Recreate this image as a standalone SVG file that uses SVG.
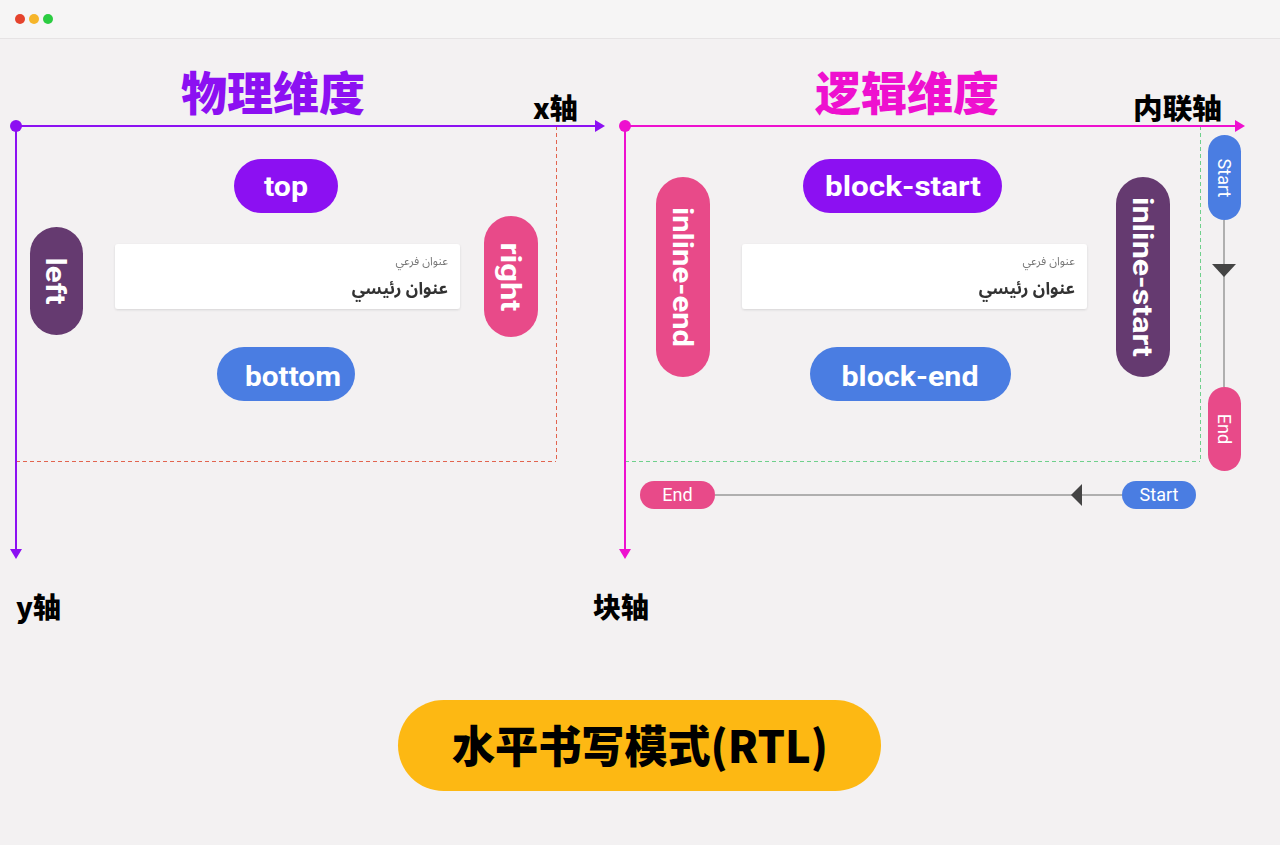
<svg xmlns="http://www.w3.org/2000/svg" width="1280" height="845" viewBox="0 0 1280 845">
<style>
.cjk{font-family:"Noto Sans CJK SC","Noto Sans",sans-serif;font-weight:900}
.pill{font-family:Roboto,"Noto Sans",sans-serif;font-weight:700;fill:#fff}
.small{font-family:Roboto,"Noto Sans",sans-serif;font-weight:400;fill:#fff;font-size:18px}
.ar{font-family:"Noto Sans Arabic","DejaVu Sans",sans-serif}
.conn{stroke:#999;stroke-width:1.5;fill:none}
.head{fill:#444}
</style>
<defs>
<filter id="sh" x="-5%" y="-20%" width="110%" height="140%">
<feDropShadow dx="0" dy="1" stdDeviation="1.2" flood-color="#000" flood-opacity="0.12"/>
</filter>
<marker id="ap" viewBox="0 0 10 12" refX="1" refY="6" markerWidth="10" markerHeight="12" markerUnits="userSpaceOnUse" orient="auto">
<path d="M0,0 L10,6 L0,12 Z" fill="#8c10f2"/>
</marker>
<marker id="am" viewBox="0 0 10 12" refX="1" refY="6" markerWidth="10" markerHeight="12" markerUnits="userSpaceOnUse" orient="auto">
<path d="M0,0 L10,6 L0,12 Z" fill="#ee10cf"/>
</marker>
</defs>
<rect x="0" y="0" width="1280" height="845" fill="#f3f1f2"/>
<rect x="0" y="0" width="1280" height="38" fill="#f6f5f5"/>
<line x1="0" y1="38.5" x2="1280" y2="38.5" stroke="#e6e3e4" stroke-width="1"/>
<circle cx="20" cy="19" r="5" fill="#e5432d"/>
<circle cx="34" cy="19" r="5" fill="#f6b52a"/>
<circle cx="48" cy="19" r="5" fill="#2bcc41"/>

<g id="titles">
<text class="cjk" x="273" y="110" font-size="46" fill="#8c10f2" text-anchor="middle">物理维度</text>
<text class="cjk" x="907" y="110" font-size="46" fill="#ee10cf" text-anchor="middle">逻辑维度</text>
<text class="cjk" x="533" y="119" font-size="28" fill="#000">x轴</text>
<text class="cjk" x="1133" y="119" font-size="28" fill="#000" textLength="89" lengthAdjust="spacingAndGlyphs">内联轴</text>
<text class="cjk" x="16" y="618" font-size="28" fill="#000">y轴</text>
<text class="cjk" x="593" y="618" font-size="28" fill="#000">块轴</text>
</g>

<g id="connectors">
<line x1="556.5" y1="126" x2="556.5" y2="461" stroke="#e2644f" stroke-width="1" stroke-dasharray="4 3"/>
<line x1="16" y1="461.5" x2="556" y2="461.5" stroke="#e2644f" stroke-width="1" stroke-dasharray="4 3"/>
<line x1="1200.5" y1="126" x2="1200.5" y2="461" stroke="#6fd08c" stroke-width="1" stroke-dasharray="4 3"/>
<line x1="625" y1="461.5" x2="1200" y2="461.5" stroke="#6fd08c" stroke-width="1" stroke-dasharray="4 3"/>
<line x1="16" y1="126" x2="596" y2="126" stroke="#8c10f2" stroke-width="2" marker-end="url(#ap)"/>
<line x1="16" y1="126" x2="16" y2="550" stroke="#8c10f2" stroke-width="2" marker-end="url(#ap)"/>
<circle cx="16" cy="126" r="6" fill="#8c10f2"/>
<line x1="625" y1="126" x2="1236" y2="126" stroke="#ee10cf" stroke-width="2" marker-end="url(#am)"/>
<line x1="625" y1="126" x2="625" y2="550" stroke="#ee10cf" stroke-width="2" marker-end="url(#am)"/>
<circle cx="625" cy="126" r="6" fill="#ee10cf"/>
<line class="conn" x1="1224" y1="220" x2="1224" y2="387"/>
<path class="head" d="M1212,264 L1236,264 L1224,277 Z"/>
<line class="conn" x1="715" y1="495" x2="1122" y2="495"/>
<path class="head" d="M1071,495 L1082,484 L1082,506 Z"/>
</g>

<g id="top">
<rect x="234" y="159" width="104" height="54" rx="27" fill="#8c10f2"/>
<text class="pill" x="286" y="196" font-size="28" text-anchor="middle" textLength="44" lengthAdjust="spacingAndGlyphs">top</text>
</g>
<g id="left">
<rect x="30" y="227" width="53" height="108" rx="26.5" fill="#653a70"/>
<text class="pill" transform="translate(46,281) rotate(90)" font-size="28" text-anchor="middle" textLength="47" lengthAdjust="spacingAndGlyphs">left</text>
</g>
<g id="right">
<rect x="484" y="216" width="54" height="121" rx="27" fill="#e84a89"/>
<text class="pill" transform="translate(501,277) rotate(90)" font-size="28" text-anchor="middle" textLength="69" lengthAdjust="spacingAndGlyphs">right</text>
</g>
<g id="bottom">
<rect x="217" y="347" width="138" height="54" rx="27" fill="#4a7de2"/>
<text class="pill" x="293" y="386" font-size="28" text-anchor="middle" textLength="96" lengthAdjust="spacingAndGlyphs">bottom</text>
</g>
<g id="card-physical" filter="url(#sh)">
<rect x="115" y="244" width="345" height="65" rx="3" fill="#fff"/>
<text class="ar" x="448" y="265" font-size="11.5" fill="#777" text-anchor="end">عنوان فرعي</text>
<text class="ar" x="448" y="294" font-size="17" font-weight="700" fill="#333" text-anchor="end">عنوان رئيسي</text>
</g>

<g id="block-start">
<rect x="803" y="159" width="199" height="54" rx="27" fill="#8c10f2"/>
<text class="pill" x="903" y="196" font-size="28" text-anchor="middle" textLength="156" lengthAdjust="spacingAndGlyphs">block-start</text>
</g>
<g id="inline-end">
<rect x="656" y="177" width="54" height="200" rx="27" fill="#e84a89"/>
<text class="pill" transform="translate(673,277) rotate(90)" font-size="28" text-anchor="middle" textLength="140" lengthAdjust="spacingAndGlyphs">inline-end</text>
</g>
<g id="inline-start">
<rect x="1116" y="177" width="54" height="200" rx="27" fill="#653a70"/>
<text class="pill" transform="translate(1133,277) rotate(90)" font-size="28" text-anchor="middle" textLength="160" lengthAdjust="spacingAndGlyphs">inline-start</text>
</g>
<g id="block-end">
<rect x="810" y="347" width="201" height="54" rx="27" fill="#4a7de2"/>
<text class="pill" x="910" y="386" font-size="28" text-anchor="middle" textLength="137" lengthAdjust="spacingAndGlyphs">block-end</text>
</g>
<g id="card-logical" filter="url(#sh)">
<rect x="742" y="244" width="345" height="65" rx="3" fill="#fff"/>
<text class="ar" x="1075" y="265" font-size="11.5" fill="#777" text-anchor="end">عنوان فرعي</text>
<text class="ar" x="1075" y="294" font-size="17" font-weight="700" fill="#333" text-anchor="end">عنوان رئيسي</text>
</g>

<g id="v-start">
<rect x="1208" y="135" width="33" height="85" rx="16.5" fill="#4a7de2"/>
<text class="small" transform="translate(1218,178) rotate(90)" text-anchor="middle">Start</text>
</g>
<g id="v-end">
<rect x="1208" y="387" width="33" height="84" rx="16.5" fill="#e84a89"/>
<text class="small" transform="translate(1218,429) rotate(90)" text-anchor="middle">End</text>
</g>
<g id="h-end">
<rect x="640" y="481" width="75" height="28" rx="14" fill="#e84a89"/>
<text class="small" x="677.5" y="501" text-anchor="middle">End</text>
</g>
<g id="h-start">
<rect x="1122" y="481" width="74" height="28" rx="14" fill="#4a7de2"/>
<text class="small" x="1159" y="501" text-anchor="middle">Start</text>
</g>

<g id="mode">
<rect x="398" y="700" width="483" height="91" rx="45.5" fill="#fdb813"/>
<text class="cjk" x="640" y="763" font-size="44" fill="#000" text-anchor="middle" textLength="376" lengthAdjust="spacingAndGlyphs">水平书写模式(RTL)</text>
</g>
</svg>
